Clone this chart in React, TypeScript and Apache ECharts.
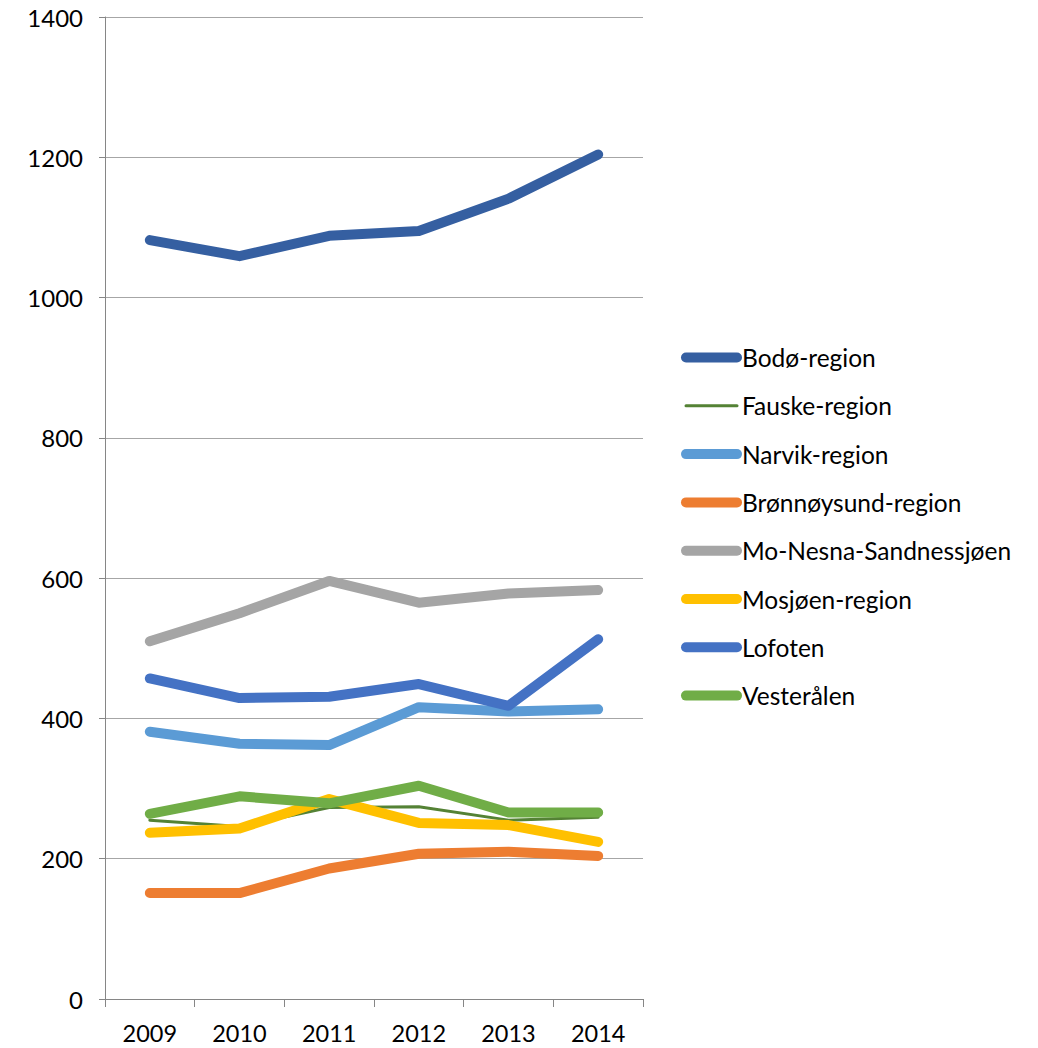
import React, { useEffect, useRef } from "react";
import * as echarts from "echarts";

const years = ["2009", "2010", "2011", "2012", "2013", "2014"];
const seriesNames = [
  "Bodø-region",
  "Fauske-region",
  "Narvik-region",
  "Brønnøysund-region",
  "Mo-Nesna-Sandnessjøen",
  "Mosjøen-region",
  "Lofoten",
  "Vesterålen",
];
const bodo = [1082, 1059, 1088, 1095, 1141, 1204];
const fauske = [255, 246, 273, 274, 255, 259];
const narvik = [381, 364, 362, 416, 410, 413];
const bronnoysund = [151, 151, 186, 207, 210, 204];
const moNesna = [510, 550, 596, 565, 578, 583];
const mosjoen = [237, 243, 285, 251, 248, 224];
const lofoten = [457, 429, 431, 449, 418, 513];
const vesteralen = [264, 289, 279, 304, 266, 266];
const seriesValues = [bodo, fauske, narvik, bronnoysund, moNesna, mosjoen, lofoten, vesteralen];
const colors = ["#355fa1", "#548235", "#5b9bd5", "#ed7d31", "#a5a5a5", "#ffc000", "#4472c4", "#70ad47"];
const widths = [10, 3, 10, 10, 10, 10, 10, 10];

export default function App() {
  const ref = useRef<HTMLDivElement>(null);
  useEffect(() => {
    if (!ref.current) return;
    const chart = echarts.init(ref.current, null, { renderer: "svg" });
    const font = "Lato, 'Open Sans', sans-serif";
    chart.setOption({
      animation: false,
      grid: { left: 105, right: 395, top: 17, bottom: 49, containLabel: false },
      legend: {
        orient: "vertical",
        left: 676,
        top: 340,
        itemWidth: 51,
        itemHeight: 10,
        itemGap: 23.3,
        textStyle: { fontFamily: font, fontSize: 24.5, color: "#000", lineHeight: 24 },
        lineStyle: { cap: "round" },
        data: seriesNames.map((n, i) => ({
          name: n,
          itemStyle: { opacity: 0 },
          lineStyle: { width: widths[i], color: colors[i], cap: "round" },
        })),
      },
      xAxis: {
        type: "category",
        data: years,
        boundaryGap: true,
        axisLine: { lineStyle: { color: "#868686", width: 1 } },
        axisTick: { show: true, length: 8, lineStyle: { color: "#868686" } },
        axisLabel: { fontFamily: font, fontSize: 23.5, color: "#000", margin: 22 },
      },
      yAxis: {
        type: "value",
        min: 0,
        max: 1400,
        interval: 200,
        axisLine: { show: true, lineStyle: { color: "#868686", width: 1 } },
        axisTick: { show: true, length: 6, lineStyle: { color: "#868686" } },
        splitLine: { lineStyle: { color: "#a6a6a6", width: 1 } },
        axisLabel: { fontFamily: font, fontSize: 24, color: "#000", margin: 22, formatter: (v: number) => String(v) },
      },
      series: seriesNames.map((n, i) => ({
        name: n,
        type: "line",
        data: seriesValues[i],
        symbol: "none",
        color: colors[i],
        lineStyle: { color: colors[i], width: widths[i], cap: "round", join: "round" },
      })),
    });
    return () => chart.dispose();
  }, []);
  return <div ref={ref} style={{ width: 1038, height: 1048, position: "absolute", left: 0, top: 0 }} />;
}
